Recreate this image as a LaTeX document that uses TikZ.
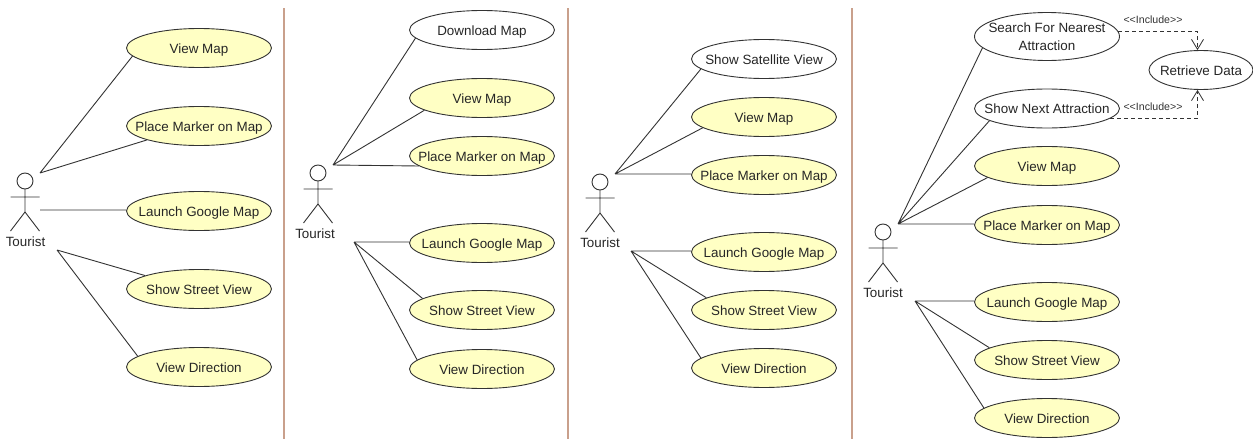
\documentclass[tikz,border=0pt]{standalone}
\usepackage{fontspec}
\setmainfont{Liberation Sans}
\usetikzlibrary{arrows.meta,shapes.geometric}
\definecolor{ucfill}{HTML}{FFFFC4}
\definecolor{ucline}{HTML}{333333}
\definecolor{divider}{HTML}{C9A08C}
\tikzset{
  usecase/.style={ellipse,draw=ucline,line width=0.9pt,fill=ucfill,minimum width=145pt,minimum height=39pt,inner xsep=-25pt,inner ysep=-10pt,font=\fontsize{13.4}{18.5}\selectfont,align=center,text=black!85,text height=12pt,text depth=1.4pt},
  plaincase/.style={usecase,fill=white},
  assoc/.style={draw=ucline,line width=0.9pt},
  include/.style={draw=ucline,line width=0.8pt,dash pattern=on 4pt off 3pt,-{Straight Barb[length=10pt,width=12pt]}},
  inclabel/.style={font=\fontsize{10.6}{12}\selectfont,text=ucline,inner sep=0pt},
  actorhead/.style={circle,draw=ucline,line width=0.9pt,fill=white,minimum size=16pt,inner sep=0pt},
  actorlabel/.style={font=\fontsize{13.4}{16}\selectfont,inner sep=0pt,text=black!85},
  divline/.style={draw=divider,line width=1.3pt},
  actorpic/.pic={
    \draw[assoc] (0,8) -- (0,31) (-14.5,16) -- (14.5,16) (-14.5,50) -- (0,31) -- (14.5,50);
  }
}
\begin{document}
\begin{tikzpicture}[x=1pt,y=-1pt]
\useasboundingbox[fill=white] (0,0) rectangle (1253,439);
% dividers
\coordinate (d1a) at (284,8); \coordinate (d1b) at (284,439);
\coordinate (d2a) at (568,8); \coordinate (d2b) at (568,439);
\coordinate (d3a) at (852,8); \coordinate (d3b) at (852,439);
\draw[divline] (d1a) -- (d1b) (d2a) -- (d2b) (d3a) -- (d3b);
% panel 1
\pic at (25,181) {actorpic};
\node[actorhead] (a1) at (25,181) {};
\node[actorlabel] (t1) at (25.5,241.5) {Tourist};
\coordinate (a1u) at (40,173); \coordinate (a1m) at (40,210); \coordinate (a1l) at (57,250);
\node[usecase] (p1a) at (199,48) {View Map};
\node[usecase] (p1b) at (199,126) {Place Marker on Map};
\node[usecase] (p1c) at (199,211) {Launch Google Map};
\node[usecase] (p1d) at (199,289) {Show Street View};
\node[usecase] (p1e) at (199,367) {View Direction};
\draw[assoc] (a1u) -- (p1a.187) (a1u) -- (p1b.195) (a1m) -- (p1c.west |- a1m) (a1l) -- (p1d.166) (a1l) -- (p1e.170);
% panel 2
\pic at (318,173) {actorpic};
\node[actorhead] (a2) at (318,173) {};
\node[actorlabel] (t2) at (315,233.5) {Tourist};
\coordinate (a2u) at (333,165); \coordinate (a2l) at (354,242);
\node[plaincase] (p2z) at (482,30) {Download Map};
\node[usecase] (p2a) at (482,98) {View Map};
\node[usecase] (p2b) at (482,156) {Place Marker on Map};
\node[usecase] (p2c) at (482,243) {Launch Google Map};
\node[usecase] (p2d) at (482,310) {Show Street View};
\node[usecase] (p2e) at (482,369) {View Direction};
\draw[assoc] (a2u) -- (p2z.187) (a2u) -- (p2a.192) (a2u) -- (p2b.189) (a2l) -- (p2c.west |- a2l) (a2l) -- (p2d.169) (a2l) -- (p2e.172);
% panel 3
\pic at (600,182) {actorpic};
\node[actorhead] (a3) at (600,182) {};
\node[actorlabel] (t3) at (600,242.5) {Tourist};
\coordinate (a3u) at (615,174); \coordinate (a3l) at (631,251);
\node[plaincase] (p3z) at (764,59) {Show Satellite View};
\node[usecase] (p3a) at (764,117) {View Map};
\node[usecase] (p3b) at (764,175) {Place Marker on Map};
\node[usecase] (p3c) at (764,252) {Launch Google Map};
\node[usecase] (p3d) at (764,310) {Show Street View};
\node[usecase] (p3e) at (764,368) {View Direction};
\draw[assoc] (a3u) -- (p3z.189) (a3u) -- (p3a.190) (a3u) -- (p3b.west |- a3u) (a3l) -- (p3c.west |- a3l) (a3l) -- (p3d.168) (a3l) -- (p3e.171);
% panel 4
\pic at (883,232) {actorpic};
\node[actorhead] (a4) at (883,232) {};
\node[actorlabel] (t4) at (883,292.5) {Tourist};
\coordinate (a4u) at (898,224); \coordinate (a4l) at (915,301);
\node[plaincase,minimum height=48pt,text height=,text depth=] (p4y) at (1047,36.5) {Search For Nearest\\Attraction};
\node[plaincase] (p4z) at (1047,108.5) {Show Next Attraction};
\node[usecase] (p4a) at (1047,166) {View Map};
\node[usecase] (p4b) at (1047,225) {Place Marker on Map};
\node[usecase] (p4c) at (1047,302) {Launch Google Map};
\node[usecase] (p4d) at (1047,360) {Show Street View};
\node[usecase] (p4e) at (1047,418) {View Direction};
\node[plaincase,minimum width=104pt] (rd) at (1201,70) {Retrieve Data};
\draw[assoc] (a4u) -- (p4y.190) (a4u) -- (p4z.192) (a4u) -- (p4a.191) (a4u) -- (p4b.west |- a4u) (a4l) -- (p4c.west |- a4l) (a4l) -- (p4d.168) (a4l) -- (p4e.171);
\draw[include] (p4y.4) -| (rd.100);
\draw[include] (p4z.351) -| (rd.260);
\node[inclabel] (i1) at (1153,19.5) {{<}{<}Include{>}{>}};
\node[inclabel] (i2) at (1153,107) {{<}{<}Include{>}{>}};
\end{tikzpicture}
\end{document}
